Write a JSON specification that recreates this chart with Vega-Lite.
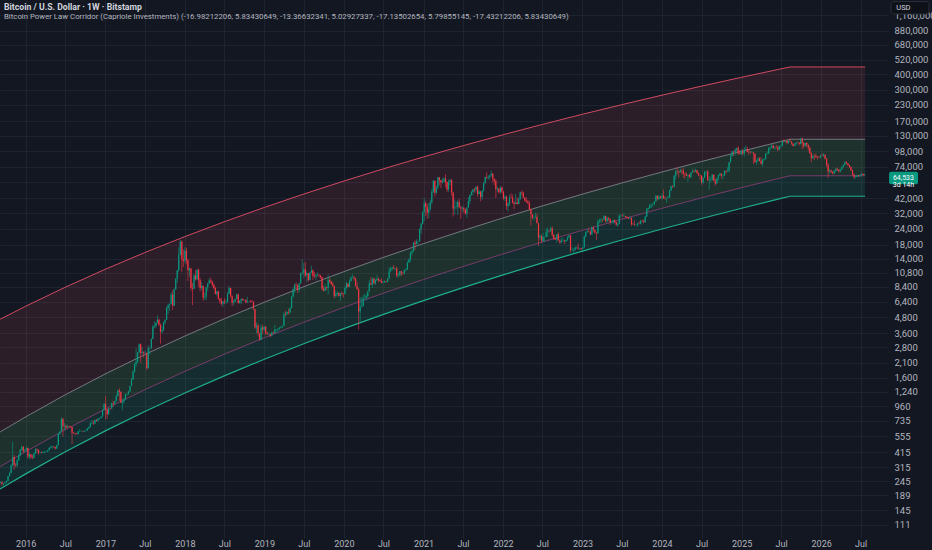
{
  "$schema": "https://vega.github.io/schema/vega-lite/v6.json",
  "width": 888,
  "height": 538,
  "autosize": {"type": "none"},
  "padding": {"left": 0, "top": 0, "right": 44, "bottom": 12},
  "background": "#131722",
  "config": {"view": {"stroke": null}, "font": "Roboto"},
  "title": {
    "text": "Bitcoin / U.S. Dollar · 1W · Bitstamp",
    "subtitle": "Bitcoin Power Law Corridor (Capriole Investments) (-16.98212206, 5.83430649, -13.36632341, 5.02927337, -17.13502654, 5.79855145, -17.43212206, 5.83430649)",
    "anchor": "start",
    "frame": "group",
    "offset": -21,
    "dx": 4,
    "fontSize": 8.7,
    "fontWeight": "bold",
    "color": "#d1d4dc",
    "subtitleFontSize": 7.8,
    "subtitleColor": "#b2b5be",
    "subtitlePadding": 2
  },
  "datasets": {
    "bands": [
      {"t": "2015-09-01", "b": 4598, "a": 592.4, "c": 315.2, "d": 210.2},
      {"t": "2015-09-07", "b": 4656, "a": 600.9, "c": 319.8, "d": 213.2},
      {"t": "2016-01-01", "b": 5884, "a": 788.3, "c": 418.7, "d": 279.7},
      {"t": "2016-07-01", "b": 8315, "a": 1177.8, "c": 624.1, "d": 417.9},
      {"t": "2017-01-01", "b": 11534, "a": 1721.7, "c": 910.2, "d": 610.9},
      {"t": "2017-07-01", "b": 15610, "a": 2445.5, "c": 1289.9, "d": 867.7},
      {"t": "2018-01-01", "b": 20858, "a": 3423, "c": 1802, "d": 1214.5},
      {"t": "2018-07-01", "b": 27322, "a": 4681, "c": 2459.5, "d": 1660.9},
      {"t": "2019-01-01", "b": 35433, "a": 6330, "c": 3319.8, "d": 2246},
      {"t": "2019-07-01", "b": 45196, "a": 8395, "c": 4394.8, "d": 2978.6},
      {"t": "2020-01-01", "b": 57218, "a": 11038, "c": 5768.5, "d": 3916.4},
      {"t": "2020-07-01", "b": 71519, "a": 14297, "c": 7460, "d": 5072.8},
      {"t": "2021-01-01", "b": 88738, "a": 18360, "c": 9568, "d": 6514.4},
      {"t": "2021-07-01", "b": 108770, "a": 23253, "c": 12098, "d": 8250.5},
      {"t": "2022-01-01", "b": 132710, "a": 29290, "c": 15218, "d": 10392},
      {"t": "2022-07-01", "b": 160210, "a": 36437, "c": 18904, "d": 12928},
      {"t": "2023-01-01", "b": 192690, "a": 45130, "c": 23385, "d": 16013},
      {"t": "2023-07-01", "b": 229500, "a": 55285, "c": 28612, "d": 19616},
      {"t": "2024-01-01", "b": 272570, "a": 67480, "c": 34884, "d": 23943},
      {"t": "2024-07-01", "b": 321330, "a": 81670, "c": 42166, "d": 28978},
      {"t": "2025-01-01", "b": 377340, "a": 98437, "c": 50771, "d": 34927},
      {"t": "2025-07-01", "b": 439900, "a": 117615, "c": 60605, "d": 41731},
      {"t": "2025-08-11", "b": 455200, "a": 122370, "c": 63022, "d": 43418},
      {"t": "2026-07-22", "b": 455200, "a": 122370, "c": 63022, "d": 43418}
    ],
    "boxes": [
      {"k": "p", "t": "2026-11-09", "t2": "2027-03-22", "y": 54000, "y2": 67800},
      {"k": "u", "t": "2026-11-18", "t2": "2027-05-11", "y": 1192000, "y2": 1496000}
    ],
    "labels": [
      {"k": "p", "t": "2027-01-14", "y": 64533, "s": "64,533\n3d 14h"},
      {"k": "u", "t": "2026-12-12", "y": 1341000, "s": "USD"}
    ],
    "candles": [
      {"t":"2015-09-07","o":239,"h":245,"l":234,"c":240},
      {"t":"2015-09-14","o":240,"h":245,"l":226,"c":232},
      {"t":"2015-09-21","o":232,"h":237,"l":226,"c":235},
      {"t":"2015-09-28","o":235,"h":241,"l":234,"c":239},
      {"t":"2015-10-05","o":239,"h":248,"l":236,"c":246},
      {"t":"2015-10-12","o":246,"h":270,"l":245,"c":269},
      {"t":"2015-10-19","o":269,"h":289,"l":266,"c":284},
      {"t":"2015-10-26","o":284,"h":334,"l":282,"c":325},
      {"t":"2015-11-02","o":325,"h":502,"l":320,"c":380},
      {"t":"2015-11-09","o":380,"h":395,"l":300,"c":330},
      {"t":"2015-11-16","o":330,"h":340,"l":316,"c":325},
      {"t":"2015-11-23","o":325,"h":365,"l":315,"c":358},
      {"t":"2015-11-30","o":358,"h":400,"l":355,"c":390},
      {"t":"2015-12-07","o":390,"h":440,"l":385,"c":435},
      {"t":"2015-12-14","o":435,"h":468,"l":425,"c":455},
      {"t":"2015-12-21","o":455,"h":465,"l":410,"c":422},
      {"t":"2015-12-28","o":422,"h":435,"l":415,"c":430},
      {"t":"2016-01-04","o":430,"h":460,"l":425,"c":448},
      {"t":"2016-01-11","o":448,"h":450,"l":370,"c":382},
      {"t":"2016-01-18","o":382,"h":415,"l":365,"c":400},
      {"t":"2016-01-25","o":400,"h":400,"l":368,"c":378},
      {"t":"2016-02-01","o":378,"h":395,"l":365,"c":375},
      {"t":"2016-02-08","o":375,"h":410,"l":370,"c":405},
      {"t":"2016-02-15","o":405,"h":445,"l":400,"c":438},
      {"t":"2016-02-22","o":438,"h":445,"l":410,"c":432},
      {"t":"2016-02-29","o":432,"h":435,"l":395,"c":410},
      {"t":"2016-03-07","o":410,"h":418,"l":405,"c":412},
      {"t":"2016-03-14","o":412,"h":420,"l":405,"c":409},
      {"t":"2016-03-21","o":409,"h":420,"l":407,"c":415},
      {"t":"2016-03-28","o":415,"h":422,"l":410,"c":418},
      {"t":"2016-04-04","o":418,"h":425,"l":415,"c":420},
      {"t":"2016-04-11","o":420,"h":432,"l":418,"c":430},
      {"t":"2016-04-18","o":430,"h":452,"l":428,"c":450},
      {"t":"2016-04-25","o":450,"h":468,"l":445,"c":455},
      {"t":"2016-05-02","o":455,"h":465,"l":440,"c":460},
      {"t":"2016-05-09","o":460,"h":462,"l":448,"c":455},
      {"t":"2016-05-16","o":455,"h":458,"l":435,"c":443},
      {"t":"2016-05-23","o":443,"h":475,"l":440,"c":470},
      {"t":"2016-05-30","o":470,"h":590,"l":470,"c":580},
      {"t":"2016-06-06","o":580,"h":610,"l":570,"c":605},
      {"t":"2016-06-13","o":605,"h":780,"l":605,"c":760},
      {"t":"2016-06-20","o":760,"h":770,"l":550,"c":665},
      {"t":"2016-06-27","o":665,"h":705,"l":620,"c":670},
      {"t":"2016-07-04","o":670,"h":685,"l":630,"c":650},
      {"t":"2016-07-11","o":650,"h":680,"l":645,"c":665},
      {"t":"2016-07-18","o":665,"h":675,"l":650,"c":660},
      {"t":"2016-07-25","o":660,"h":665,"l":645,"c":655},
      {"t":"2016-08-01","o":655,"h":660,"l":480,"c":590},
      {"t":"2016-08-08","o":590,"h":600,"l":580,"c":585},
      {"t":"2016-08-15","o":585,"h":590,"l":565,"c":580},
      {"t":"2016-08-22","o":580,"h":590,"l":570,"c":578},
      {"t":"2016-08-29","o":578,"h":612,"l":570,"c":605},
      {"t":"2016-09-05","o":605,"h":630,"l":600,"c":608},
      {"t":"2016-09-12","o":608,"h":612,"l":600,"c":608},
      {"t":"2016-09-19","o":608,"h":612,"l":595,"c":603},
      {"t":"2016-09-26","o":603,"h":615,"l":598,"c":612},
      {"t":"2016-10-03","o":612,"h":620,"l":605,"c":615},
      {"t":"2016-10-10","o":615,"h":642,"l":612,"c":640},
      {"t":"2016-10-17","o":640,"h":660,"l":630,"c":655},
      {"t":"2016-10-24","o":655,"h":720,"l":650,"c":700},
      {"t":"2016-10-31","o":700,"h":740,"l":690,"c":705},
      {"t":"2016-11-07","o":705,"h":740,"l":680,"c":700},
      {"t":"2016-11-14","o":700,"h":750,"l":690,"c":745},
      {"t":"2016-11-21","o":745,"h":755,"l":720,"c":735},
      {"t":"2016-11-28","o":735,"h":770,"l":725,"c":765},
      {"t":"2016-12-05","o":765,"h":775,"l":755,"c":770},
      {"t":"2016-12-12","o":770,"h":795,"l":765,"c":790},
      {"t":"2016-12-19","o":790,"h":900,"l":788,"c":895},
      {"t":"2016-12-26","o":895,"h":1000,"l":880,"c":998},
      {"t":"2017-01-02","o":998,"h":1150,"l":750,"c":905},
      {"t":"2017-01-09","o":905,"h":910,"l":760,"c":825},
      {"t":"2017-01-16","o":825,"h":925,"l":820,"c":920},
      {"t":"2017-01-23","o":920,"h":925,"l":890,"c":918},
      {"t":"2017-01-30","o":918,"h":1020,"l":910,"c":1015},
      {"t":"2017-02-06","o":1015,"h":1060,"l":940,"c":1000},
      {"t":"2017-02-13","o":1000,"h":1055,"l":990,"c":1050},
      {"t":"2017-02-20","o":1050,"h":1190,"l":1045,"c":1150},
      {"t":"2017-02-27","o":1150,"h":1290,"l":1140,"c":1270},
      {"t":"2017-03-06","o":1270,"h":1330,"l":1050,"c":1240},
      {"t":"2017-03-13","o":1240,"h":1260,"l":1020,"c":1020},
      {"t":"2017-03-20","o":1020,"h":1100,"l":890,"c":1040},
      {"t":"2017-03-27","o":1040,"h":1100,"l":1000,"c":1080},
      {"t":"2017-04-03","o":1080,"h":1200,"l":1070,"c":1190},
      {"t":"2017-04-10","o":1190,"h":1215,"l":1150,"c":1190},
      {"t":"2017-04-17","o":1190,"h":1260,"l":1180,"c":1250},
      {"t":"2017-04-24","o":1250,"h":1390,"l":1240,"c":1380},
      {"t":"2017-05-01","o":1380,"h":1600,"l":1380,"c":1550},
      {"t":"2017-05-08","o":1550,"h":1850,"l":1550,"c":1800},
      {"t":"2017-05-15","o":1800,"h":2100,"l":1750,"c":2050},
      {"t":"2017-05-22","o":2050,"h":2760,"l":1950,"c":2150},
      {"t":"2017-05-29","o":2150,"h":2560,"l":2100,"c":2550},
      {"t":"2017-06-05","o":2550,"h":3000,"l":2500,"c":2950},
      {"t":"2017-06-12","o":2950,"h":2990,"l":2100,"c":2500},
      {"t":"2017-06-19","o":2500,"h":2800,"l":2450,"c":2550},
      {"t":"2017-06-26","o":2550,"h":2600,"l":2300,"c":2500},
      {"t":"2017-07-03","o":2500,"h":2650,"l":2450,"c":2500},
      {"t":"2017-07-10","o":2500,"h":2550,"l":1850,"c":1910},
      {"t":"2017-07-17","o":1910,"h":2900,"l":1900,"c":2750},
      {"t":"2017-07-24","o":2750,"h":2800,"l":2450,"c":2750},
      {"t":"2017-07-31","o":2750,"h":3300,"l":2700,"c":3250},
      {"t":"2017-08-07","o":3250,"h":4200,"l":3240,"c":4050},
      {"t":"2017-08-14","o":4050,"h":4480,"l":3950,"c":4100},
      {"t":"2017-08-21","o":4100,"h":4400,"l":3950,"c":4350},
      {"t":"2017-08-28","o":4350,"h":4980,"l":4300,"c":4600},
      {"t":"2017-09-04","o":4600,"h":4700,"l":4100,"c":4200},
      {"t":"2017-09-11","o":4200,"h":4300,"l":2980,"c":3700},
      {"t":"2017-09-18","o":3700,"h":4100,"l":3600,"c":3800},
      {"t":"2017-09-25","o":3800,"h":4400,"l":3750,"c":4380},
      {"t":"2017-10-02","o":4380,"h":4620,"l":4220,"c":4600},
      {"t":"2017-10-09","o":4600,"h":5850,"l":4580,"c":5700},
      {"t":"2017-10-16","o":5700,"h":6150,"l":5100,"c":6000},
      {"t":"2017-10-23","o":6000,"h":6200,"l":5400,"c":6150},
      {"t":"2017-10-30","o":6150,"h":7600,"l":6100,"c":7300},
      {"t":"2017-11-06","o":7300,"h":7900,"l":5500,"c":5950},
      {"t":"2017-11-13","o":5950,"h":8100,"l":5900,"c":8000},
      {"t":"2017-11-20","o":8000,"h":9800,"l":7900,"c":9700},
      {"t":"2017-11-27","o":9700,"h":11400,"l":9000,"c":11300},
      {"t":"2017-12-04","o":11300,"h":17200,"l":11000,"c":15000},
      {"t":"2017-12-11","o":15000,"h":19700,"l":14800,"c":19100},
      {"t":"2017-12-18","o":19100,"h":19400,"l":11000,"c":13800},
      {"t":"2017-12-25","o":13800,"h":16500,"l":12000,"c":13400},
      {"t":"2018-01-01","o":13400,"h":17200,"l":12800,"c":16200},
      {"t":"2018-01-08","o":16200,"h":17100,"l":12600,"c":13600},
      {"t":"2018-01-15","o":13600,"h":14000,"l":9300,"c":11300},
      {"t":"2018-01-22","o":11300,"h":11900,"l":10000,"c":11700},
      {"t":"2018-01-29","o":11700,"h":11800,"l":7800,"c":8200},
      {"t":"2018-02-05","o":8200,"h":9000,"l":6000,"c":8100},
      {"t":"2018-02-12","o":8100,"h":10600,"l":8000,"c":10300},
      {"t":"2018-02-19","o":10300,"h":11300,"l":9400,"c":9600},
      {"t":"2018-02-26","o":9600,"h":11500,"l":9400,"c":11400},
      {"t":"2018-03-05","o":11400,"h":11700,"l":8400,"c":9500},
      {"t":"2018-03-12","o":9500,"h":9900,"l":7700,"c":8200},
      {"t":"2018-03-19","o":8200,"h":9100,"l":7900,"c":8500},
      {"t":"2018-03-26","o":8500,"h":8600,"l":6500,"c":6900},
      {"t":"2018-04-02","o":6900,"h":7500,"l":6600,"c":7000},
      {"t":"2018-04-09","o":7000,"h":8400,"l":6600,"c":8300},
      {"t":"2018-04-16","o":8300,"h":9000,"l":7800,"c":8900},
      {"t":"2018-04-23","o":8900,"h":9800,"l":8800,"c":9400},
      {"t":"2018-04-30","o":9400,"h":9900,"l":8900,"c":9200},
      {"t":"2018-05-07","o":9200,"h":9400,"l":8400,"c":8700},
      {"t":"2018-05-14","o":8700,"h":8900,"l":8000,"c":8200},
      {"t":"2018-05-21","o":8200,"h":8400,"l":7300,"c":7350},
      {"t":"2018-05-28","o":7350,"h":7800,"l":7050,"c":7700},
      {"t":"2018-06-04","o":7700,"h":7780,"l":6650,"c":6750},
      {"t":"2018-06-11","o":6750,"h":6850,"l":6150,"c":6450},
      {"t":"2018-06-18","o":6450,"h":6850,"l":5950,"c":6150},
      {"t":"2018-06-25","o":6150,"h":6520,"l":5800,"c":6400},
      {"t":"2018-07-02","o":6400,"h":6800,"l":6150,"c":6300},
      {"t":"2018-07-09","o":6300,"h":6650,"l":6100,"c":6350},
      {"t":"2018-07-16","o":6350,"h":7600,"l":6300,"c":7400},
      {"t":"2018-07-23","o":7400,"h":8500,"l":7350,"c":8200},
      {"t":"2018-07-30","o":8200,"h":8250,"l":6900,"c":7050},
      {"t":"2018-08-06","o":7050,"h":7150,"l":5900,"c":6300},
      {"t":"2018-08-13","o":6300,"h":6600,"l":6000,"c":6400},
      {"t":"2018-08-20","o":6400,"h":6800,"l":6250,"c":6700},
      {"t":"2018-08-27","o":6700,"h":7400,"l":6700,"c":7300},
      {"t":"2018-09-03","o":7300,"h":7400,"l":6150,"c":6250},
      {"t":"2018-09-10","o":6250,"h":6550,"l":6150,"c":6500},
      {"t":"2018-09-17","o":6500,"h":6780,"l":6100,"c":6700},
      {"t":"2018-09-24","o":6700,"h":6800,"l":6450,"c":6600},
      {"t":"2018-10-01","o":6600,"h":6680,"l":6500,"c":6600},
      {"t":"2018-10-08","o":6600,"h":6700,"l":6200,"c":6300},
      {"t":"2018-10-15","o":6300,"h":7000,"l":6300,"c":6400},
      {"t":"2018-10-22","o":6400,"h":6480,"l":6380,"c":6450},
      {"t":"2018-10-29","o":6450,"h":6560,"l":6250,"c":6400},
      {"t":"2018-11-05","o":6400,"h":6600,"l":6350,"c":6350},
      {"t":"2018-11-12","o":6350,"h":6450,"l":5500,"c":5600},
      {"t":"2018-11-19","o":5600,"h":5600,"l":3900,"c":4000},
      {"t":"2018-11-26","o":4000,"h":4400,"l":3600,"c":4150},
      {"t":"2018-12-03","o":4150,"h":4300,"l":3400,"c":3600},
      {"t":"2018-12-10","o":3600,"h":3600,"l":3150,"c":3200},
      {"t":"2018-12-17","o":3200,"h":4200,"l":3200,"c":4000},
      {"t":"2018-12-24","o":4000,"h":4200,"l":3550,"c":3850},
      {"t":"2018-12-31","o":3850,"h":4100,"l":3750,"c":4050},
      {"t":"2019-01-07","o":4050,"h":4100,"l":3500,"c":3600},
      {"t":"2019-01-14","o":3600,"h":3700,"l":3500,"c":3550},
      {"t":"2019-01-21","o":3550,"h":3650,"l":3500,"c":3550},
      {"t":"2019-01-28","o":3550,"h":3550,"l":3350,"c":3450},
      {"t":"2019-02-04","o":3450,"h":3700,"l":3400,"c":3650},
      {"t":"2019-02-11","o":3650,"h":3700,"l":3550,"c":3600},
      {"t":"2019-02-18","o":3600,"h":4200,"l":3600,"c":3850},
      {"t":"2019-02-25","o":3850,"h":3900,"l":3700,"c":3850},
      {"t":"2019-03-04","o":3850,"h":3950,"l":3700,"c":3900},
      {"t":"2019-03-11","o":3900,"h":4000,"l":3800,"c":4000},
      {"t":"2019-03-18","o":4000,"h":4100,"l":3950,"c":4050},
      {"t":"2019-03-25","o":4050,"h":4150,"l":3950,"c":4100},
      {"t":"2019-04-01","o":4100,"h":5300,"l":4100,"c":5100},
      {"t":"2019-04-08","o":5100,"h":5400,"l":4900,"c":5080},
      {"t":"2019-04-15","o":5080,"h":5350,"l":5000,"c":5300},
      {"t":"2019-04-22","o":5300,"h":5600,"l":5050,"c":5250},
      {"t":"2019-04-29","o":5250,"h":5800,"l":5150,"c":5700},
      {"t":"2019-05-06","o":5700,"h":7100,"l":5650,"c":7000},
      {"t":"2019-05-13","o":7000,"h":8300,"l":6900,"c":8000},
      {"t":"2019-05-20","o":8000,"h":8900,"l":7500,"c":8700},
      {"t":"2019-05-27","o":8700,"h":9050,"l":8000,"c":8600},
      {"t":"2019-06-03","o":8600,"h":8750,"l":7450,"c":7900},
      {"t":"2019-06-10","o":7900,"h":9000,"l":7600,"c":8900},
      {"t":"2019-06-17","o":8900,"h":10900,"l":8900,"c":10700},
      {"t":"2019-06-24","o":10700,"h":13800,"l":10300,"c":10800},
      {"t":"2019-07-01","o":10800,"h":12900,"l":9700,"c":11500},
      {"t":"2019-07-08","o":11500,"h":13200,"l":10000,"c":10300},
      {"t":"2019-07-15","o":10300,"h":11100,"l":9100,"c":10700},
      {"t":"2019-07-22","o":10700,"h":10800,"l":9200,"c":9500},
      {"t":"2019-07-29","o":9500,"h":11000,"l":9400,"c":10800},
      {"t":"2019-08-05","o":10800,"h":12300,"l":10800,"c":11300},
      {"t":"2019-08-12","o":11300,"h":11450,"l":9500,"c":10200},
      {"t":"2019-08-19","o":10200,"h":10950,"l":9800,"c":10100},
      {"t":"2019-08-26","o":10100,"h":10600,"l":9400,"c":10400},
      {"t":"2019-09-02","o":10400,"h":10900,"l":10100,"c":10450},
      {"t":"2019-09-09","o":10450,"h":10500,"l":9900,"c":10300},
      {"t":"2019-09-16","o":10300,"h":10350,"l":9700,"c":10000},
      {"t":"2019-09-23","o":10000,"h":10050,"l":7800,"c":8100},
      {"t":"2019-09-30","o":8100,"h":8500,"l":7700,"c":7800},
      {"t":"2019-10-07","o":7800,"h":8800,"l":7750,"c":8300},
      {"t":"2019-10-14","o":8300,"h":8400,"l":7900,"c":8200},
      {"t":"2019-10-21","o":8200,"h":10500,"l":7300,"c":9500},
      {"t":"2019-10-28","o":9500,"h":9900,"l":8900,"c":9200},
      {"t":"2019-11-04","o":9200,"h":9400,"l":8700,"c":8800},
      {"t":"2019-11-11","o":8800,"h":9150,"l":8400,"c":8500},
      {"t":"2019-11-18","o":8500,"h":8550,"l":6800,"c":7100},
      {"t":"2019-11-25","o":7100,"h":7850,"l":6900,"c":7400},
      {"t":"2019-12-02","o":7400,"h":7700,"l":7150,"c":7500},
      {"t":"2019-12-09","o":7500,"h":7600,"l":7000,"c":7100},
      {"t":"2019-12-16","o":7100,"h":7500,"l":6450,"c":7500},
      {"t":"2019-12-23","o":7500,"h":7700,"l":7150,"c":7400},
      {"t":"2019-12-30","o":7400,"h":7500,"l":6900,"c":7350},
      {"t":"2020-01-06","o":7350,"h":8450,"l":7350,"c":8200},
      {"t":"2020-01-13","o":8200,"h":9200,"l":8050,"c":8900},
      {"t":"2020-01-20","o":8900,"h":8950,"l":8250,"c":8350},
      {"t":"2020-01-27","o":8350,"h":9550,"l":8350,"c":9300},
      {"t":"2020-02-03","o":9300,"h":10150,"l":9200,"c":9900},
      {"t":"2020-02-10","o":9900,"h":10500,"l":9700,"c":9900},
      {"t":"2020-02-17","o":9900,"h":10200,"l":9350,"c":9700},
      {"t":"2020-02-24","o":9700,"h":9950,"l":8400,"c":8500},
      {"t":"2020-03-02","o":8500,"h":9150,"l":7950,"c":8000},
      {"t":"2020-03-09","o":8000,"h":8200,"l":3850,"c":5350},
      {"t":"2020-03-16","o":5350,"h":6900,"l":4450,"c":5800},
      {"t":"2020-03-23","o":5800,"h":6950,"l":5800,"c":5900},
      {"t":"2020-03-30","o":5900,"h":7200,"l":5850,"c":6800},
      {"t":"2020-04-06","o":6800,"h":7450,"l":6750,"c":6900},
      {"t":"2020-04-13","o":6900,"h":7300,"l":6500,"c":7100},
      {"t":"2020-04-20","o":7100,"h":7800,"l":6800,"c":7700},
      {"t":"2020-04-27","o":7700,"h":9450,"l":7650,"c":8900},
      {"t":"2020-05-04","o":8900,"h":10000,"l":8700,"c":8700},
      {"t":"2020-05-11","o":8700,"h":9950,"l":8200,"c":9700},
      {"t":"2020-05-18","o":9700,"h":9900,"l":8800,"c":8900},
      {"t":"2020-05-25","o":8900,"h":9750,"l":8650,"c":9450},
      {"t":"2020-06-01","o":9450,"h":10400,"l":9300,"c":9700},
      {"t":"2020-06-08","o":9700,"h":9950,"l":9100,"c":9450},
      {"t":"2020-06-15","o":9450,"h":9600,"l":9200,"c":9300},
      {"t":"2020-06-22","o":9300,"h":9800,"l":8900,"c":9000},
      {"t":"2020-06-29","o":9000,"h":9300,"l":8950,"c":9050},
      {"t":"2020-07-06","o":9050,"h":9450,"l":9050,"c":9250},
      {"t":"2020-07-13","o":9250,"h":9300,"l":9050,"c":9150},
      {"t":"2020-07-20","o":9150,"h":9800,"l":9100,"c":9700},
      {"t":"2020-07-27","o":9700,"h":12000,"l":9700,"c":11100},
      {"t":"2020-08-03","o":11100,"h":12000,"l":11050,"c":11700},
      {"t":"2020-08-10","o":11700,"h":12100,"l":11200,"c":11900},
      {"t":"2020-08-17","o":11900,"h":12450,"l":11600,"c":11650},
      {"t":"2020-08-24","o":11650,"h":11800,"l":11250,"c":11700},
      {"t":"2020-08-31","o":11700,"h":12100,"l":9900,"c":10250},
      {"t":"2020-09-07","o":10250,"h":10800,"l":9900,"c":10300},
      {"t":"2020-09-14","o":10300,"h":11150,"l":10250,"c":11100},
      {"t":"2020-09-21","o":11100,"h":11150,"l":10150,"c":10750},
      {"t":"2020-09-28","o":10750,"h":11000,"l":10450,"c":10650},
      {"t":"2020-10-05","o":10650,"h":11450,"l":10500,"c":11300},
      {"t":"2020-10-12","o":11300,"h":11750,"l":11200,"c":11500},
      {"t":"2020-10-19","o":11500,"h":13350,"l":11400,"c":13000},
      {"t":"2020-10-26","o":13000,"h":14050,"l":12900,"c":13800},
      {"t":"2020-11-02","o":13800,"h":15950,"l":13200,"c":15500},
      {"t":"2020-11-09","o":15500,"h":16500,"l":14850,"c":16000},
      {"t":"2020-11-16","o":16000,"h":18850,"l":15800,"c":18700},
      {"t":"2020-11-23","o":18700,"h":19450,"l":16300,"c":18200},
      {"t":"2020-11-30","o":18200,"h":19900,"l":18100,"c":19150},
      {"t":"2020-12-07","o":19150,"h":19400,"l":17650,"c":19200},
      {"t":"2020-12-14","o":19200,"h":24300,"l":19000,"c":23900},
      {"t":"2020-12-21","o":23900,"h":26900,"l":21900,"c":26400},
      {"t":"2020-12-28","o":26400,"h":33300,"l":26000,"c":32500},
      {"t":"2021-01-04","o":32500,"h":42000,"l":27700,"c":38200},
      {"t":"2021-01-11","o":38200,"h":40100,"l":30300,"c":35800},
      {"t":"2021-01-18","o":35800,"h":37900,"l":28800,"c":32200},
      {"t":"2021-01-25","o":32200,"h":38600,"l":29200,"c":34300},
      {"t":"2021-02-01","o":34300,"h":40900,"l":33400,"c":39000},
      {"t":"2021-02-08","o":39000,"h":49700,"l":37400,"c":47200},
      {"t":"2021-02-15","o":47200,"h":58300,"l":46000,"c":57500},
      {"t":"2021-02-22","o":57500,"h":57500,"l":43000,"c":46200},
      {"t":"2021-03-01","o":46200,"h":52600,"l":45000,"c":50900},
      {"t":"2021-03-08","o":50900,"h":61800,"l":49300,"c":61200},
      {"t":"2021-03-15","o":61200,"h":61700,"l":53300,"c":58100},
      {"t":"2021-03-22","o":58100,"h":58600,"l":50400,"c":55800},
      {"t":"2021-03-29","o":55800,"h":60100,"l":54900,"c":57100},
      {"t":"2021-04-05","o":57100,"h":61300,"l":55500,"c":60000},
      {"t":"2021-04-12","o":60000,"h":64900,"l":51500,"c":56200},
      {"t":"2021-04-19","o":56200,"h":57000,"l":47000,"c":49100},
      {"t":"2021-04-26","o":49100,"h":58500,"l":47100,"c":56600},
      {"t":"2021-05-03","o":56600,"h":59600,"l":53000,"c":58200},
      {"t":"2021-05-10","o":58200,"h":59500,"l":43900,"c":46400},
      {"t":"2021-05-17","o":46400,"h":46700,"l":30000,"c":34700},
      {"t":"2021-05-24","o":34700,"h":40900,"l":31100,"c":35600},
      {"t":"2021-05-31","o":35600,"h":39500,"l":34600,"c":35800},
      {"t":"2021-06-07","o":35800,"h":40500,"l":31000,"c":39100},
      {"t":"2021-06-14","o":39100,"h":41300,"l":34900,"c":35500},
      {"t":"2021-06-21","o":35500,"h":36400,"l":28800,"c":34700},
      {"t":"2021-06-28","o":34700,"h":36600,"l":32700,"c":35300},
      {"t":"2021-07-05","o":35300,"h":35600,"l":32100,"c":34200},
      {"t":"2021-07-12","o":34200,"h":34600,"l":31100,"c":31800},
      {"t":"2021-07-19","o":31800,"h":35400,"l":29300,"c":35400},
      {"t":"2021-07-26","o":35400,"h":42600,"l":35300,"c":39900},
      {"t":"2021-08-02","o":39900,"h":44600,"l":37500,"c":44600},
      {"t":"2021-08-09","o":44600,"h":48000,"l":43800,"c":47000},
      {"t":"2021-08-16","o":47000,"h":49400,"l":43900,"c":49300},
      {"t":"2021-08-23","o":49300,"h":50500,"l":46400,"c":48900},
      {"t":"2021-08-30","o":48900,"h":51900,"l":46500,"c":51700},
      {"t":"2021-09-06","o":51700,"h":52900,"l":43000,"c":45200},
      {"t":"2021-09-13","o":45200,"h":48800,"l":44800,"c":47300},
      {"t":"2021-09-20","o":47300,"h":47500,"l":39600,"c":42800},
      {"t":"2021-09-27","o":42800,"h":48500,"l":40800,"c":48200},
      {"t":"2021-10-04","o":48200,"h":56000,"l":47100,"c":54900},
      {"t":"2021-10-11","o":54900,"h":62000,"l":53900,"c":61500},
      {"t":"2021-10-18","o":61500,"h":67000,"l":59700,"c":60900},
      {"t":"2021-10-25","o":60900,"h":63700,"l":58000,"c":61300},
      {"t":"2021-11-01","o":61300,"h":64200,"l":59400,"c":63300},
      {"t":"2021-11-08","o":63300,"h":69000,"l":62300,"c":65500},
      {"t":"2021-11-15","o":65500,"h":66300,"l":55700,"c":59700},
      {"t":"2021-11-22","o":59700,"h":59900,"l":53300,"c":57300},
      {"t":"2021-11-29","o":57300,"h":59100,"l":42000,"c":49400},
      {"t":"2021-12-06","o":49400,"h":51900,"l":46800,"c":50100},
      {"t":"2021-12-13","o":50100,"h":50100,"l":45600,"c":46700},
      {"t":"2021-12-20","o":46700,"h":51900,"l":45600,"c":50800},
      {"t":"2021-12-27","o":50800,"h":52100,"l":45700,"c":47300},
      {"t":"2022-01-03","o":47300,"h":47600,"l":40600,"c":41800},
      {"t":"2022-01-10","o":41800,"h":44400,"l":39700,"c":43100},
      {"t":"2022-01-17","o":43100,"h":43500,"l":34000,"c":36300},
      {"t":"2022-01-24","o":36300,"h":38900,"l":32900,"c":37900},
      {"t":"2022-01-31","o":37900,"h":44500,"l":36300,"c":42400},
      {"t":"2022-02-07","o":42400,"h":45800,"l":41700,"c":42200},
      {"t":"2022-02-14","o":42200,"h":44700,"l":38200,"c":38400},
      {"t":"2022-02-21","o":38400,"h":39800,"l":34300,"c":37700},
      {"t":"2022-02-28","o":37700,"h":45400,"l":37500,"c":38800},
      {"t":"2022-03-07","o":38800,"h":42600,"l":37200,"c":37800},
      {"t":"2022-03-14","o":37800,"h":42300,"l":37600,"c":41300},
      {"t":"2022-03-21","o":41300,"h":46900,"l":40500,"c":46800},
      {"t":"2022-03-28","o":46800,"h":48200,"l":44200,"c":46400},
      {"t":"2022-04-04","o":46400,"h":47400,"l":41900,"c":42200},
      {"t":"2022-04-11","o":42200,"h":42400,"l":39200,"c":40400},
      {"t":"2022-04-18","o":40400,"h":42900,"l":38600,"c":39500},
      {"t":"2022-04-25","o":39500,"h":40800,"l":37600,"c":38500},
      {"t":"2022-05-02","o":38500,"h":40000,"l":33700,"c":34300},
      {"t":"2022-05-09","o":34300,"h":34600,"l":25400,"c":31300},
      {"t":"2022-05-16","o":31300,"h":31300,"l":28700,"c":29400},
      {"t":"2022-05-23","o":29400,"h":30600,"l":28000,"c":29400},
      {"t":"2022-05-30","o":29400,"h":32200,"l":29300,"c":29900},
      {"t":"2022-06-06","o":29900,"h":31700,"l":26600,"c":26600},
      {"t":"2022-06-13","o":26600,"h":26800,"l":17600,"c":20500},
      {"t":"2022-06-20","o":20500,"h":21800,"l":19700,"c":21000},
      {"t":"2022-06-27","o":21000,"h":21500,"l":18600,"c":19300},
      {"t":"2022-07-04","o":19300,"h":22400,"l":19000,"c":20800},
      {"t":"2022-07-11","o":20800,"h":21000,"l":18900,"c":20800},
      {"t":"2022-07-18","o":20800,"h":24200,"l":20700,"c":22600},
      {"t":"2022-07-25","o":22600,"h":24600,"l":20700,"c":23300},
      {"t":"2022-08-01","o":23300,"h":23600,"l":22400,"c":23200},
      {"t":"2022-08-08","o":23200,"h":25100,"l":22700,"c":24300},
      {"t":"2022-08-15","o":24300,"h":25100,"l":20800,"c":21500},
      {"t":"2022-08-22","o":21500,"h":21800,"l":19600,"c":20000},
      {"t":"2022-08-29","o":20000,"h":20500,"l":19600,"c":19800},
      {"t":"2022-09-05","o":19800,"h":21800,"l":18600,"c":21800},
      {"t":"2022-09-12","o":21800,"h":22600,"l":19400,"c":19400},
      {"t":"2022-09-19","o":19400,"h":19900,"l":18200,"c":18800},
      {"t":"2022-09-26","o":18800,"h":20300,"l":18500,"c":19300},
      {"t":"2022-10-03","o":19300,"h":20400,"l":19100,"c":19400},
      {"t":"2022-10-10","o":19400,"h":19800,"l":18200,"c":19200},
      {"t":"2022-10-17","o":19200,"h":19700,"l":18900,"c":19600},
      {"t":"2022-10-24","o":19600,"h":21000,"l":19300,"c":20600},
      {"t":"2022-10-31","o":20600,"h":21500,"l":20100,"c":21300},
      {"t":"2022-11-07","o":21300,"h":21500,"l":15600,"c":16300},
      {"t":"2022-11-14","o":16300,"h":17200,"l":16000,"c":16300},
      {"t":"2022-11-21","o":16300,"h":16800,"l":15500,"c":16450},
      {"t":"2022-11-28","o":16450,"h":17400,"l":16100,"c":17100},
      {"t":"2022-12-05","o":17100,"h":17400,"l":16700,"c":17100},
      {"t":"2022-12-12","o":17100,"h":18400,"l":16500,"c":16800},
      {"t":"2022-12-19","o":16800,"h":17000,"l":16300,"c":16850},
      {"t":"2022-12-26","o":16850,"h":16900,"l":16400,"c":16600},
      {"t":"2023-01-02","o":16600,"h":17400,"l":16600,"c":17100},
      {"t":"2023-01-09","o":17100,"h":21300,"l":17100,"c":20900},
      {"t":"2023-01-16","o":20900,"h":23000,"l":20400,"c":22700},
      {"t":"2023-01-23","o":22700,"h":23800,"l":22300,"c":23000},
      {"t":"2023-01-30","o":23000,"h":24200,"l":22600,"c":22900},
      {"t":"2023-02-06","o":22900,"h":23400,"l":21400,"c":21800},
      {"t":"2023-02-13","o":21800,"h":25200,"l":21400,"c":24600},
      {"t":"2023-02-20","o":24600,"h":25100,"l":22800,"c":23500},
      {"t":"2023-02-27","o":23500,"h":23900,"l":22100,"c":22400},
      {"t":"2023-03-06","o":22400,"h":22600,"l":19600,"c":22100},
      {"t":"2023-03-13","o":22100,"h":28500,"l":22000,"c":27500},
      {"t":"2023-03-20","o":27500,"h":28900,"l":26600,"c":27900},
      {"t":"2023-03-27","o":27900,"h":29200,"l":26600,"c":28400},
      {"t":"2023-04-03","o":28400,"h":28800,"l":27200,"c":28300},
      {"t":"2023-04-10","o":28300,"h":30900,"l":28200,"c":30400},
      {"t":"2023-04-17","o":30400,"h":30500,"l":27100,"c":27600},
      {"t":"2023-04-24","o":27600,"h":30000,"l":26900,"c":29200},
      {"t":"2023-05-01","o":29200,"h":29800,"l":27700,"c":28700},
      {"t":"2023-05-08","o":28700,"h":28800,"l":25800,"c":26900},
      {"t":"2023-05-15","o":26900,"h":27700,"l":26600,"c":27100},
      {"t":"2023-05-22","o":27100,"h":28300,"l":26100,"c":28100},
      {"t":"2023-05-29","o":28100,"h":28400,"l":26600,"c":27100},
      {"t":"2023-06-05","o":27100,"h":27400,"l":25400,"c":25900},
      {"t":"2023-06-12","o":25900,"h":26800,"l":24800,"c":26300},
      {"t":"2023-06-19","o":26300,"h":31400,"l":26200,"c":30500},
      {"t":"2023-06-26","o":30500,"h":31000,"l":29500,"c":30600},
      {"t":"2023-07-03","o":30600,"h":31500,"l":29900,"c":30300},
      {"t":"2023-07-10","o":30300,"h":31800,"l":30000,"c":30300},
      {"t":"2023-07-17","o":30300,"h":30400,"l":29500,"c":29900},
      {"t":"2023-07-24","o":29900,"h":30100,"l":28900,"c":29300},
      {"t":"2023-07-31","o":29300,"h":29800,"l":28600,"c":29000},
      {"t":"2023-08-07","o":29000,"h":30200,"l":28800,"c":29400},
      {"t":"2023-08-14","o":29400,"h":29500,"l":25200,"c":26100},
      {"t":"2023-08-21","o":26100,"h":26800,"l":25800,"c":26000},
      {"t":"2023-08-28","o":26000,"h":28100,"l":25400,"c":25800},
      {"t":"2023-09-04","o":25800,"h":26100,"l":25400,"c":25800},
      {"t":"2023-09-11","o":25800,"h":26800,"l":24900,"c":26500},
      {"t":"2023-09-18","o":26500,"h":27500,"l":26000,"c":26300},
      {"t":"2023-09-25","o":26300,"h":28000,"l":26000,"c":28000},
      {"t":"2023-10-02","o":28000,"h":28600,"l":27200,"c":27900},
      {"t":"2023-10-09","o":27900,"h":28000,"l":26500,"c":27100},
      {"t":"2023-10-16","o":27100,"h":30400,"l":26900,"c":30000},
      {"t":"2023-10-23","o":30000,"h":35200,"l":29800,"c":34500},
      {"t":"2023-10-30","o":34500,"h":35300,"l":33400,"c":35000},
      {"t":"2023-11-06","o":35000,"h":38000,"l":34500,"c":37100},
      {"t":"2023-11-13","o":37100,"h":38000,"l":35000,"c":37400},
      {"t":"2023-11-20","o":37400,"h":38400,"l":35800,"c":37500},
      {"t":"2023-11-27","o":37500,"h":39800,"l":36900,"c":39500},
      {"t":"2023-12-04","o":39500,"h":44700,"l":39400,"c":43800},
      {"t":"2023-12-11","o":43800,"h":44000,"l":40200,"c":41400},
      {"t":"2023-12-18","o":41400,"h":44400,"l":40600,"c":43000},
      {"t":"2023-12-25","o":43000,"h":43800,"l":41400,"c":42300},
      {"t":"2024-01-01","o":42300,"h":45900,"l":40800,"c":43900},
      {"t":"2024-01-08","o":43900,"h":49000,"l":41500,"c":41700},
      {"t":"2024-01-15","o":41700,"h":43500,"l":40600,"c":41600},
      {"t":"2024-01-22","o":41600,"h":42200,"l":38600,"c":42000},
      {"t":"2024-01-29","o":42000,"h":43800,"l":41900,"c":42600},
      {"t":"2024-02-05","o":42600,"h":48600,"l":42300,"c":48300},
      {"t":"2024-02-12","o":48300,"h":52800,"l":47700,"c":52100},
      {"t":"2024-02-19","o":52100,"h":52900,"l":50600,"c":51700},
      {"t":"2024-02-26","o":51700,"h":64000,"l":50900,"c":63100},
      {"t":"2024-03-04","o":63100,"h":69200,"l":59000,"c":68900},
      {"t":"2024-03-11","o":68900,"h":73800,"l":64600,"c":68400},
      {"t":"2024-03-18","o":68400,"h":68900,"l":60800,"c":67200},
      {"t":"2024-03-25","o":67200,"h":71800,"l":66600,"c":69700},
      {"t":"2024-04-01","o":69700,"h":71300,"l":64500,"c":69400},
      {"t":"2024-04-08","o":69400,"h":72800,"l":60700,"c":65700},
      {"t":"2024-04-15","o":65700,"h":66900,"l":59600,"c":64900},
      {"t":"2024-04-22","o":64900,"h":67200,"l":62800,"c":63100},
      {"t":"2024-04-29","o":63100,"h":64700,"l":56500,"c":63900},
      {"t":"2024-05-06","o":63900,"h":65500,"l":60100,"c":61500},
      {"t":"2024-05-13","o":61500,"h":67700,"l":60700,"c":67000},
      {"t":"2024-05-20","o":67000,"h":71900,"l":66600,"c":68500},
      {"t":"2024-05-27","o":68500,"h":70600,"l":66700,"c":67800},
      {"t":"2024-06-03","o":67800,"h":71900,"l":67400,"c":69600},
      {"t":"2024-06-10","o":69600,"h":70200,"l":65000,"c":66200},
      {"t":"2024-06-17","o":66200,"h":66900,"l":63100,"c":63300},
      {"t":"2024-06-24","o":63300,"h":63700,"l":58400,"c":62700},
      {"t":"2024-07-01","o":62700,"h":63800,"l":53500,"c":55900},
      {"t":"2024-07-08","o":55900,"h":61300,"l":54300,"c":60800},
      {"t":"2024-07-15","o":60800,"h":68300,"l":60700,"c":68200},
      {"t":"2024-07-22","o":68200,"h":69400,"l":63500,"c":68200},
      {"t":"2024-07-29","o":68200,"h":70000,"l":57200,"c":58100},
      {"t":"2024-08-05","o":58100,"h":62700,"l":49100,"c":58700},
      {"t":"2024-08-12","o":58700,"h":61800,"l":56100,"c":58900},
      {"t":"2024-08-19","o":58900,"h":65000,"l":57800,"c":64200},
      {"t":"2024-08-26","o":64200,"h":64500,"l":57200,"c":57300},
      {"t":"2024-09-02","o":57300,"h":59800,"l":52600,"c":54800},
      {"t":"2024-09-09","o":54800,"h":60600,"l":54600,"c":60000},
      {"t":"2024-09-16","o":60000,"h":64100,"l":57500,"c":63500},
      {"t":"2024-09-23","o":63500,"h":66500,"l":62700,"c":65600},
      {"t":"2024-09-30","o":65600,"h":65600,"l":59800,"c":62800},
      {"t":"2024-10-07","o":62800,"h":64400,"l":58900,"c":62900},
      {"t":"2024-10-14","o":62900,"h":69400,"l":62500,"c":69000},
      {"t":"2024-10-21","o":69000,"h":69500,"l":65100,"c":68000},
      {"t":"2024-10-28","o":68000,"h":73600,"l":67500,"c":68700},
      {"t":"2024-11-04","o":68700,"h":81000,"l":66800,"c":80400},
      {"t":"2024-11-11","o":80400,"h":93500,"l":80200,"c":89800},
      {"t":"2024-11-18","o":89800,"h":99600,"l":89500,"c":98000},
      {"t":"2024-11-25","o":98000,"h":98700,"l":90800,"c":96400},
      {"t":"2024-12-02","o":96400,"h":104000,"l":90500,"c":101100},
      {"t":"2024-12-09","o":101100,"h":105200,"l":94100,"c":104400},
      {"t":"2024-12-16","o":104400,"h":108300,"l":92200,"c":95200},
      {"t":"2024-12-23","o":95200,"h":99900,"l":92500,"c":93700},
      {"t":"2024-12-30","o":93700,"h":102700,"l":91400,"c":98300},
      {"t":"2025-01-06","o":98300,"h":102500,"l":91200,"c":94500},
      {"t":"2025-01-13","o":94500,"h":106400,"l":89300,"c":101300},
      {"t":"2025-01-20","o":101300,"h":109600,"l":99500,"c":102600},
      {"t":"2025-01-27","o":102600,"h":106500,"l":96200,"c":97700},
      {"t":"2025-02-03","o":97700,"h":102500,"l":91200,"c":96500},
      {"t":"2025-02-10","o":96500,"h":98800,"l":94100,"c":96100},
      {"t":"2025-02-17","o":96100,"h":99500,"l":94800,"c":96300},
      {"t":"2025-02-24","o":96300,"h":96500,"l":78200,"c":94200},
      {"t":"2025-03-03","o":94200,"h":95000,"l":80100,"c":80700},
      {"t":"2025-03-10","o":80700,"h":84300,"l":76600,"c":82600},
      {"t":"2025-03-17","o":82600,"h":87500,"l":81200,"c":86100},
      {"t":"2025-03-24","o":86100,"h":88800,"l":81600,"c":82300},
      {"t":"2025-03-31","o":82300,"h":88500,"l":77100,"c":78300},
      {"t":"2025-04-07","o":78300,"h":86000,"l":74400,"c":83700},
      {"t":"2025-04-14","o":83700,"h":86400,"l":83000,"c":85100},
      {"t":"2025-04-21","o":85100,"h":95800,"l":85100,"c":93700},
      {"t":"2025-04-28","o":93700,"h":97900,"l":92800,"c":94300},
      {"t":"2025-05-05","o":94300,"h":105000,"l":93400,"c":104700},
      {"t":"2025-05-12","o":104700,"h":107100,"l":100700,"c":106500},
      {"t":"2025-05-19","o":106500,"h":111900,"l":102000,"c":109000},
      {"t":"2025-05-26","o":109000,"h":110700,"l":103100,"c":104600},
      {"t":"2025-06-02","o":104600,"h":106800,"l":100400,"c":105700},
      {"t":"2025-06-09","o":105700,"h":110400,"l":103400,"c":105600},
      {"t":"2025-06-16","o":105600,"h":108900,"l":98200,"c":100900},
      {"t":"2025-06-23","o":100900,"h":108500,"l":100300,"c":108300},
      {"t":"2025-06-30","o":108300,"h":110500,"l":105100,"c":109200},
      {"t":"2025-07-07","o":109200,"h":119400,"l":107500,"c":119100},
      {"t":"2025-07-14","o":119100,"h":123200,"l":115700,"c":117300},
      {"t":"2025-07-21","o":117300,"h":120200,"l":114700,"c":119400},
      {"t":"2025-07-28","o":119400,"h":119800,"l":112000,"c":114200},
      {"t":"2025-08-04","o":114200,"h":119300,"l":112700,"c":119300},
      {"t":"2025-08-11","o":119300,"h":124500,"l":116900,"c":117400},
      {"t":"2025-08-18","o":117400,"h":117600,"l":110700,"c":113500},
      {"t":"2025-08-25","o":113500,"h":113600,"l":107300,"c":108200},
      {"t":"2025-09-01","o":108200,"h":113400,"l":107300,"c":111100},
      {"t":"2025-09-08","o":111100,"h":116700,"l":110600,"c":115300},
      {"t":"2025-09-15","o":115300,"h":117900,"l":114600,"c":115200},
      {"t":"2025-09-22","o":115200,"h":115400,"l":108600,"c":112200},
      {"t":"2025-09-29","o":112200,"h":125600,"l":111600,"c":123500},
      {"t":"2025-10-06","o":123500,"h":126200,"l":102000,"c":115000},
      {"t":"2025-10-13","o":115000,"h":115900,"l":103500,"c":108700},
      {"t":"2025-10-20","o":108700,"h":114000,"l":106500,"c":114500},
      {"t":"2025-10-27","o":114500,"h":116300,"l":106300,"c":110500},
      {"t":"2025-11-03","o":110500,"h":110800,"l":98900,"c":104700},
      {"t":"2025-11-10","o":104700,"h":107500,"l":94000,"c":94500},
      {"t":"2025-11-17","o":94500,"h":96600,"l":80500,"c":86800},
      {"t":"2025-11-24","o":86800,"h":93000,"l":86000,"c":90400},
      {"t":"2025-12-01","o":90400,"h":94000,"l":84000,"c":90300},
      {"t":"2025-12-08","o":90300,"h":94500,"l":87500,"c":88200},
      {"t":"2025-12-15","o":88200,"h":90500,"l":84500,"c":88100},
      {"t":"2025-12-22","o":88100,"h":90500,"l":86500,"c":87800},
      {"t":"2025-12-29","o":87800,"h":91500,"l":87000,"c":91000},
      {"t":"2026-01-05","o":91000,"h":94500,"l":89500,"c":90500},
      {"t":"2026-01-12","o":90500,"h":95000,"l":89500,"c":92500},
      {"t":"2026-01-19","o":92500,"h":93000,"l":85000,"c":86000},
      {"t":"2026-01-26","o":86000,"h":86500,"l":74000,"c":77000},
      {"t":"2026-02-02","o":77000,"h":79000,"l":60500,"c":68000},
      {"t":"2026-02-09","o":68000,"h":71500,"l":65500,"c":69500},
      {"t":"2026-02-16","o":69500,"h":70500,"l":66000,"c":67500},
      {"t":"2026-02-23","o":67500,"h":69000,"l":64500,"c":66000},
      {"t":"2026-03-02","o":66000,"h":70000,"l":65000,"c":68500},
      {"t":"2026-03-09","o":68500,"h":72500,"l":67500,"c":71500},
      {"t":"2026-03-16","o":71500,"h":73500,"l":69000,"c":70000},
      {"t":"2026-03-23","o":70000,"h":71500,"l":67000,"c":68000},
      {"t":"2026-03-30","o":68000,"h":71500,"l":67000,"c":70500},
      {"t":"2026-04-06","o":70500,"h":75000,"l":70000,"c":74000},
      {"t":"2026-04-13","o":74000,"h":77500,"l":73000,"c":76500},
      {"t":"2026-04-20","o":76500,"h":82000,"l":76000,"c":80500},
      {"t":"2026-04-27","o":80500,"h":82500,"l":77500,"c":79000},
      {"t":"2026-05-04","o":79000,"h":79500,"l":75000,"c":76500},
      {"t":"2026-05-11","o":76500,"h":77000,"l":72500,"c":74000},
      {"t":"2026-05-18","o":74000,"h":74500,"l":68500,"c":70000},
      {"t":"2026-05-25","o":70000,"h":70500,"l":63000,"c":64500},
      {"t":"2026-06-01","o":64500,"h":65500,"l":59500,"c":61500},
      {"t":"2026-06-08","o":61500,"h":63500,"l":60000,"c":62000},
      {"t":"2026-06-15","o":62000,"h":64500,"l":61000,"c":63500},
      {"t":"2026-06-22","o":63500,"h":64000,"l":61500,"c":62500},
      {"t":"2026-06-29","o":62500,"h":65000,"l":62000,"c":64000},
      {"t":"2026-07-06","o":64000,"h":66000,"l":63500,"c":65000},
      {"t":"2026-07-13","o":65000,"h":65500,"l":63000,"c":64000},
      {"t":"2026-07-20","o":64000,"h":65200,"l":63500,"c":64533}
    ]
  },
  "encoding": {
    "x": {
      "field": "t",
      "type": "temporal",
      "scale": {
        "type": "utc",
        "domain": [
          {"year": 2015, "month": 9, "date": 5, "utc": true},
          {"year": 2026, "month": 11, "date": 4, "utc": true}
        ]
      },
      "axis": {
        "title": null,
        "orient": "bottom",
        "values": [
          {"year": 2016, "month": 1, "date": 1, "utc": true},
          {"year": 2016, "month": 7, "date": 1, "utc": true},
          {"year": 2017, "month": 1, "date": 1, "utc": true},
          {"year": 2017, "month": 7, "date": 1, "utc": true},
          {"year": 2018, "month": 1, "date": 1, "utc": true},
          {"year": 2018, "month": 7, "date": 1, "utc": true},
          {"year": 2019, "month": 1, "date": 1, "utc": true},
          {"year": 2019, "month": 7, "date": 1, "utc": true},
          {"year": 2020, "month": 1, "date": 1, "utc": true},
          {"year": 2020, "month": 7, "date": 1, "utc": true},
          {"year": 2021, "month": 1, "date": 1, "utc": true},
          {"year": 2021, "month": 7, "date": 1, "utc": true},
          {"year": 2022, "month": 1, "date": 1, "utc": true},
          {"year": 2022, "month": 7, "date": 1, "utc": true},
          {"year": 2023, "month": 1, "date": 1, "utc": true},
          {"year": 2023, "month": 7, "date": 1, "utc": true},
          {"year": 2024, "month": 1, "date": 1, "utc": true},
          {"year": 2024, "month": 7, "date": 1, "utc": true},
          {"year": 2025, "month": 1, "date": 1, "utc": true},
          {"year": 2025, "month": 7, "date": 1, "utc": true},
          {"year": 2026, "month": 1, "date": 1, "utc": true},
          {"year": 2026, "month": 7, "date": 1, "utc": true}
        ],
        "labelExpr": "utcFormat(datum.value, '%m') == '01' ? utcFormat(datum.value, '%Y') : 'Jul'",
        "grid": true,
        "gridColor": "#1f2330",
        "gridWidth": 1,
        "ticks": false,
        "domain": false,
        "labelColor": "#b2b5be",
        "labelFontSize": 9,
        "labelPadding": 1,
        "labelBaseline": "top",
        "labelFlush": false,
        "labelOverlap": false
      }
    }
  },
  "layer": [
    {
      "data": {"name": "bands"},
      "mark": {"type": "area", "color": "#e04f66", "opacity": 0.12, "clip": true},
      "encoding": {
        "y": {
          "field": "b",
          "type": "quantitative",
          "scale": {"type": "log", "domain": [87.2, 1537000], "nice": false, "zero": false},
          "axis": {
            "title": null,
            "orient": "right",
            "values": [111, 145, 189, 245, 315, 415, 555, 735, 960, 1240, 1600, 2100, 2800, 3600, 4800, 6400, 8400, 10800, 14000, 18000, 24000, 32000, 42000, 56000, 74000, 98000, 130000, 170000, 230000, 300000, 400000, 520000, 680000, 880000, 1160000],
            "format": ",",
            "labelExpr": "datum.value == 56000 ? '' : datum.label",
            "grid": true,
            "gridColor": "#1f2330",
            "ticks": false,
            "domain": false,
            "labelAlign": "left",
            "labelBaseline": "middle",
            "labelPadding": 6,
            "labelColor": "#b2b5be",
            "labelFontSize": 9.5,
            "labelOverlap": false,
            "labelFlush": false
          }
        },
        "y2": {"field": "a"}
      }
    },
    {
      "data": {"name": "bands"},
      "mark": {"type": "area", "color": "#5cc86a", "opacity": 0.15, "clip": true},
      "encoding": {
        "y": {"field": "a", "type": "quantitative", "title": null},
        "y2": {"field": "c"}
      }
    },
    {
      "data": {"name": "bands"},
      "mark": {"type": "area", "color": "#20b890", "opacity": 0.14, "clip": true},
      "encoding": {
        "y": {"field": "c", "type": "quantitative", "title": null},
        "y2": {"field": "d"}
      }
    },
    {
      "data": {"name": "bands"},
      "mark": {"type": "line", "color": "#d04a60", "strokeWidth": 1, "clip": true},
      "encoding": {"y": {"field": "b", "type": "quantitative", "title": null}}
    },
    {
      "data": {"name": "bands"},
      "mark": {"type": "line", "color": "#8f939c", "strokeWidth": 1, "opacity": 0.75, "clip": true},
      "encoding": {"y": {"field": "a", "type": "quantitative", "title": null}}
    },
    {
      "data": {"name": "bands"},
      "mark": {"type": "line", "color": "#8e3f7a", "strokeWidth": 1, "opacity": 0.8, "clip": true},
      "encoding": {"y": {"field": "c", "type": "quantitative", "title": null}}
    },
    {
      "data": {"name": "bands"},
      "mark": {"type": "line", "color": "#1fae8b", "strokeWidth": 1.2, "clip": true},
      "encoding": {"y": {"field": "d", "type": "quantitative", "title": null}}
    },
    {
      "data": {"name": "candles"},
      "mark": {"type": "rule", "strokeWidth": 0.6},
      "encoding": {
        "y": {"field": "l", "type": "quantitative", "title": null},
        "y2": {"field": "h"},
        "color": {"condition": {"test": "datum.c >= datum.o", "value": "#089981"}, "value": "#f23645"}
      }
    },
    {
      "data": {"name": "candles"},
      "mark": {"type": "rule", "strokeWidth": 1.2},
      "encoding": {
        "y": {"field": "o", "type": "quantitative", "title": null},
        "y2": {"field": "c"},
        "color": {"condition": {"test": "datum.c >= datum.o", "value": "#089981"}, "value": "#f23645"}
      }
    },
    {
      "data": {"name": "boxes"},
      "transform": [{"filter": "datum.k == 'p'"}],
      "mark": {"type": "rect", "color": "#089981", "cornerRadius": 2},
      "encoding": {
        "x2": {"field": "t2"},
        "y": {"field": "y", "type": "quantitative", "title": null},
        "y2": {"field": "y2"}
      }
    },
    {
      "data": {"name": "boxes"},
      "transform": [{"filter": "datum.k == 'u'"}],
      "mark": {"type": "rect", "fill": "#0e1118", "stroke": "#2a2e39", "strokeWidth": 1, "cornerRadius": 3},
      "encoding": {
        "x2": {"field": "t2"},
        "y": {"field": "y", "type": "quantitative", "title": null},
        "y2": {"field": "y2"}
      }
    },
    {
      "data": {"name": "labels"},
      "transform": [{"filter": "datum.k == 'p'"}],
      "mark": {"type": "text", "color": "#ffffff", "fontSize": 7, "lineHeight": 7, "lineBreak": "\n", "align": "center", "baseline": "middle", "dy": 3.6},
      "encoding": {
        "y": {"field": "y", "type": "quantitative", "title": null},
        "text": {"field": "s", "type": "nominal"}
      }
    },
    {
      "data": {"name": "labels"},
      "transform": [{"filter": "datum.k == 'u'"}],
      "mark": {"type": "text", "color": "#d1d4dc", "fontSize": 7.5, "align": "left", "baseline": "middle"},
      "encoding": {
        "y": {"field": "y", "type": "quantitative", "title": null},
        "text": {"field": "s", "type": "nominal"}
      }
    }
  ]
}
